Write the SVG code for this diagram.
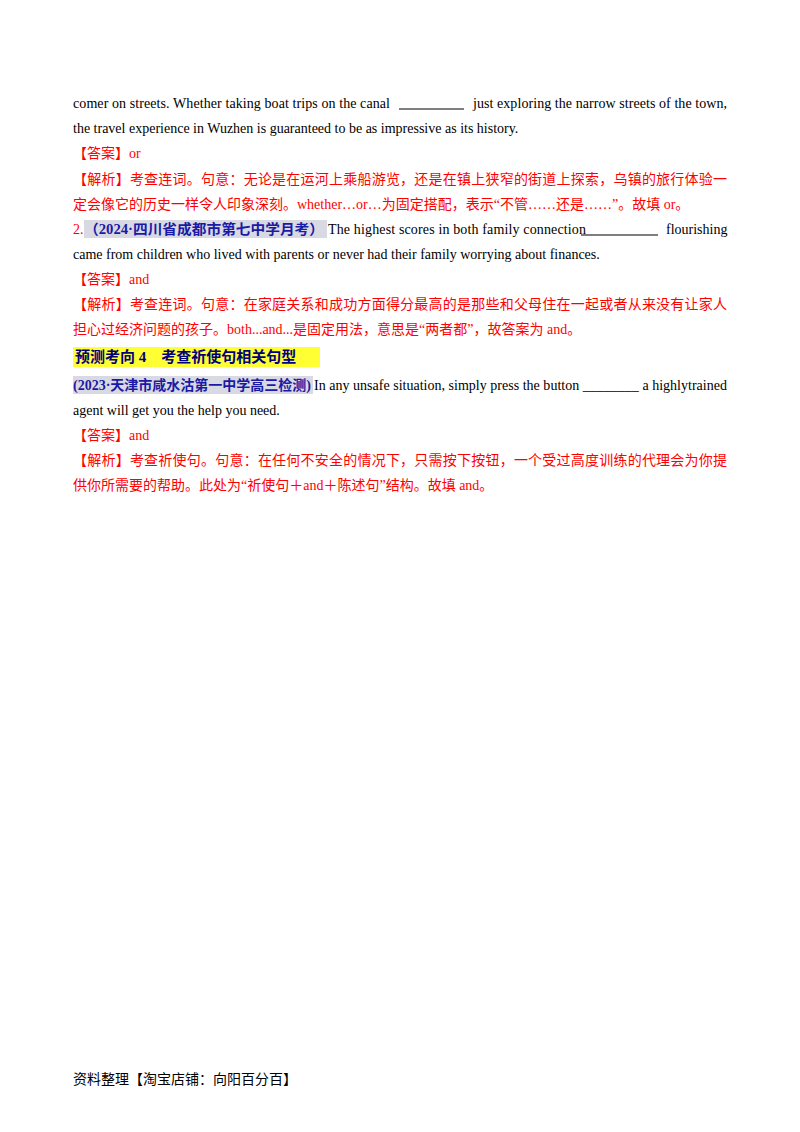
<svg xmlns="http://www.w3.org/2000/svg" width="800" height="1132" viewBox="0 0 800 1132">
<style>
text{font-family:"Liberation Serif","Noto Sans CJK SC",serif;font-size:14px;fill:#000}
.r{fill:#ff0000}
.b{fill:#1a1aa6;font-weight:bold}
.h{font-weight:bold;fill:#000080;font-size:15px}
</style>
<rect width="800" height="1132" fill="#fff"/>
<text x="73" y="108" textLength="317" lengthAdjust="spacing">comer on streets. Whether taking boat trips on the canal</text>
<line x1="399" y1="109" x2="464" y2="109" stroke="#000" stroke-width="1.2"/>
<text x="473" y="108" textLength="254" lengthAdjust="spacing">just exploring the narrow streets of the town,</text>
<text x="73" y="133">the travel experience in Wuzhen is guaranteed to be as impressive as its history.</text>
<text x="73" y="158" class="r">【答案】or</text>
<text x="73" y="184" class="r" textLength="654" lengthAdjust="spacing">【解析】考查连词。句意：无论是在运河上乘船游览，还是在镇上狭窄的街道上探索，乌镇的旅行体验一</text>
<text x="73" y="209" class="r">定会像它的历史一样令人印象深刻。whether…or…为固定搭配，表示“不管……还是……”。故填 or。</text>
<rect x="84" y="220" width="243" height="18" fill="#d9d9e3"/>
<text x="73" y="234" class="r">2.</text>
<text x="84" y="234" class="b" textLength="240" lengthAdjust="spacingAndGlyphs">（2024·四川省成都市第七中学月考）</text>
<text x="328" y="234" textLength="258" lengthAdjust="spacing">The highest scores in both family connection</text>
<line x1="581" y1="235" x2="658" y2="235" stroke="#000" stroke-width="1.2"/>
<text x="666" y="234">flourishing</text>
<text x="73" y="259">came from children who lived with parents or never had their family worrying about finances.</text>
<text x="73" y="284" class="r">【答案】and</text>
<text x="73" y="309" class="r" textLength="654" lengthAdjust="spacing">【解析】考查连词。句意：在家庭关系和成功方面得分最高的是那些和父母住在一起或者从来没有让家人</text>
<text x="73" y="334" class="r">担心过经济问题的孩子。both...and...是固定用法，意思是“两者都”，故答案为 and。</text>
<rect x="73" y="347" width="247" height="20" fill="#ffff33"/>
<text x="75" y="362" class="h">预测考向 4　考查祈使句相关句型</text>
<rect x="73" y="376" width="240" height="18" fill="#d9d9e3"/>
<text x="73" y="390" class="b" textLength="238" lengthAdjust="spacingAndGlyphs">(2023·天津市咸水沽第一中学高三检测)</text>
<text x="314" y="390" textLength="413" lengthAdjust="spacing">In any unsafe situation, simply press the button ________ a highlytrained</text>
<text x="73" y="415">agent will get you the help you need.</text>
<text x="73" y="440" class="r">【答案】and</text>
<text x="73" y="465" class="r" textLength="654" lengthAdjust="spacing">【解析】考查祈使句。句意：在任何不安全的情况下，只需按下按钮，一个受过高度训练的代理会为你提</text>
<text x="73" y="490" class="r">供你所需要的帮助。此处为“祈使句＋and＋陈述句”结构。故填 and。</text>
<text x="73" y="1084">资料整理【淘宝店铺：向阳百分百】</text>
</svg>
